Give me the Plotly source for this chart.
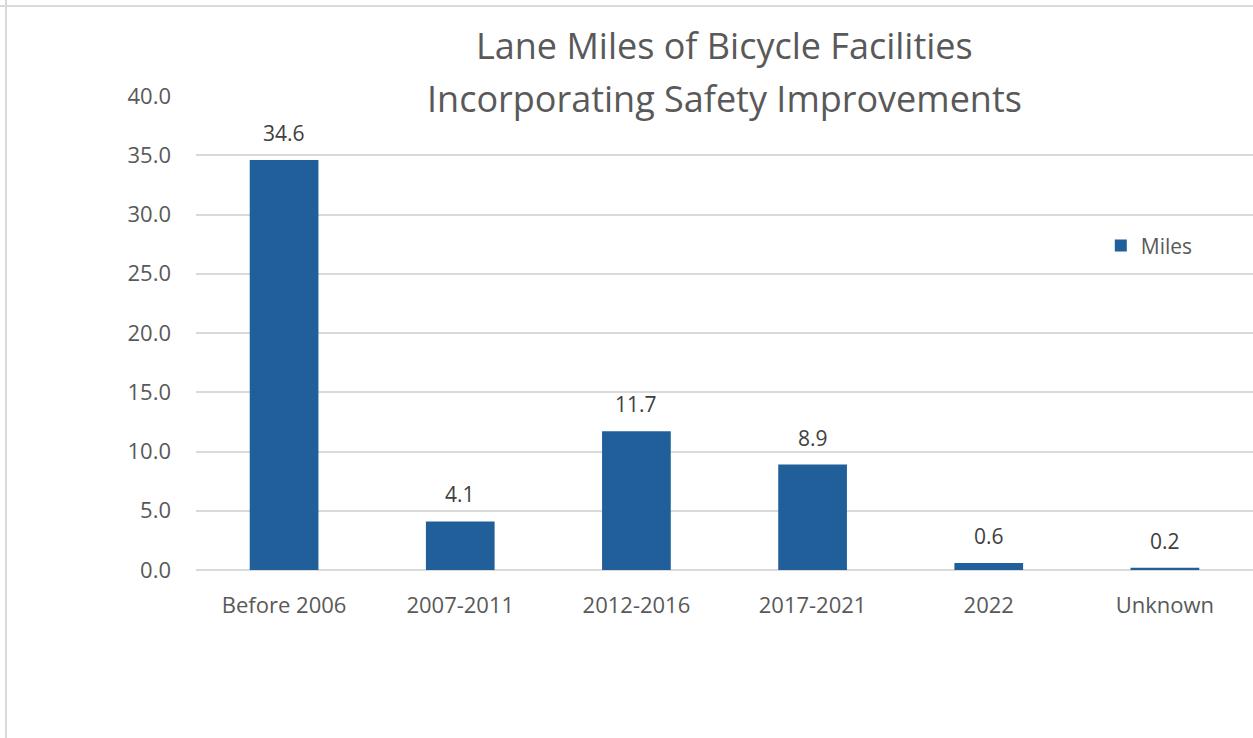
import plotly.graph_objects as go

# data
periods = ["Before 2006", "2007-2011", "2012-2016", "2017-2021", "2022", "Unknown"]
miles = [34.6, 4.1, 11.7, 8.9, 0.6, 0.2]
y_ticks = [0, 5, 10, 15, 20, 25, 30, 35, 40]
title_lines = ["Lane Miles of Bicycle Facilities", "Incorporating Safety Improvements"]

BAR = "#215F9A"
TXT = "#595959"
GRID = "#D9D9D9"
FONT = "Open Sans"

fig = go.Figure()
fig.add_trace(go.Bar(x=periods, y=miles, name="Miles", marker_color=BAR,
                     marker_line_width=0, showlegend=True))

# value labels above bars (x by category index so "2022" isn't read as a number)
for i, m in enumerate(miles):
    fig.add_annotation(x=i, y=m, text=f"{m:.1f}", showarrow=False,
                       yanchor="middle", yshift=27,
                       font=dict(family=FONT, size=21, color="#404040"))

# two-line title
for i, line in enumerate(title_lines):
    fig.add_annotation(xref="paper", yref="paper", x=0.5, y=1, yanchor="middle",
                       yshift=51 - 53 * i, text=line, showarrow=False,
                       font=dict(family=FONT, size=36, color=TXT))

# chart frame (left and top edges)
fig.add_shape(type="line", xref="paper", yref="paper", xsizemode="pixel", xanchor=0,
              x0=-190, x1=-190, y0=-2, y1=2, line=dict(color=GRID, width=2))
fig.add_shape(type="line", xref="paper", yref="paper", ysizemode="pixel", yanchor=1,
              x0=-0.2, x1=1.1, y0=90, y1=90, line=dict(color=GRID, width=2))

fig.update_layout(
    width=1253, height=738,
    margin=dict(l=196, r=0, t=96, b=168),
    paper_bgcolor="white", plot_bgcolor="white",
    bargap=0.61,
    font=dict(family=FONT, color=TXT, size=21),
    legend=dict(x=0.856, y=0.684, xanchor="left", yanchor="middle",
                itemwidth=30, font=dict(size=21, color=TXT),
                bgcolor="rgba(0,0,0,0)"),
)
fig.update_yaxes(range=[0, 40], tickvals=y_ticks, tickformat=".1f",
                 showgrid=True, gridcolor=GRID, gridwidth=1.5,
                 zeroline=True, zerolinecolor=GRID, zerolinewidth=1.5,
                 showline=False, ticks="", ticklabelstandoff=24,
                 tickfont=dict(size=22, color=TXT))
fig.update_xaxes(type="category", range=[-0.5, len(periods) - 0.5],
                 showgrid=False, showline=False, ticks="",
                 ticklabelstandoff=20, tickfont=dict(size=22, color=TXT))

fig.write_html("out.html", config={"displayModeBar": False},
               post_script="document.body.style.margin='0';")
